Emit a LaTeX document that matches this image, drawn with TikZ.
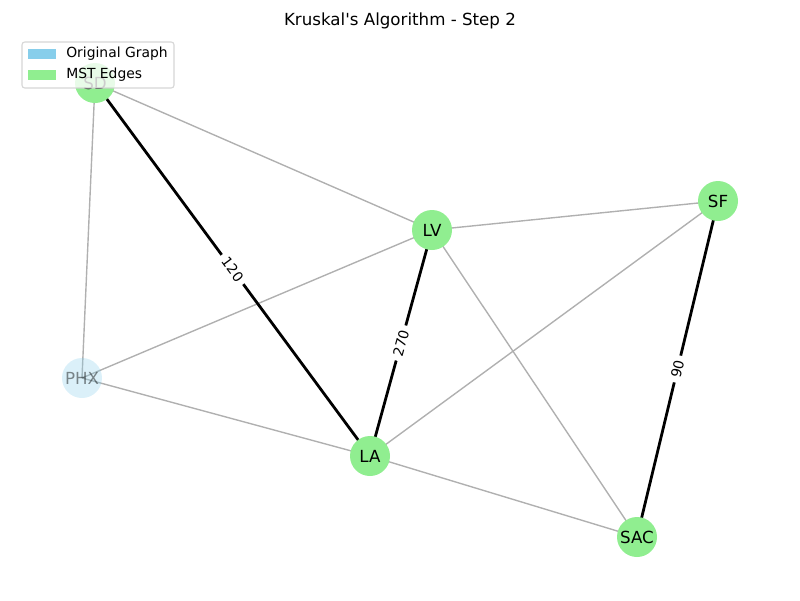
\documentclass[tikz,border=0pt]{standalone}
\usepackage{fontspec}
\setmainfont{DejaVu Sans}[Ligatures=TeXOff]
\usetikzlibrary{backgrounds}
\definecolor{mstgreen}{HTML}{90EE90}
\definecolor{skyblue}{HTML}{87CEEB}
\definecolor{edgegray}{RGB}{176,176,176}
\definecolor{legendedge}{RGB}{204,204,204}
\begin{document}
\begin{tikzpicture}[x=0.72pt,y=-0.72pt,
  vtx/.style={circle,fill=mstgreen,minimum size=28.8pt,inner sep=0pt,font=\fontsize{12}{14}\selectfont},
  faded/.style={fill=skyblue,fill opacity=0.3,text opacity=0.45},
  grayedge/.style={draw=edgegray,line width=1pt},
  mstedge/.style={draw=black,line width=2pt},
  wlabel/.style={midway,sloped,fill=white,rounded corners=2pt,inner xsep=3.5pt,inner ysep=2.5pt,font=\fontsize{10}{12}\selectfont},
  legendbox/.style={draw=legendedge,fill=white,fill opacity=0.8,draw opacity=0.8,rounded corners=2pt,line width=0.8pt},
  legendtext/.style={anchor=west,inner sep=0pt,font=\fontsize{10}{12}\selectfont}
]
\useasboundingbox (0,0) rectangle (800,600);
\node[font=\fontsize{12}{14}\selectfont] (title) at (400,21) {Kruskal's Algorithm - Step 2};

\node[vtx] (SD) at (95,83) {SD};
\node[vtx] (LV) at (432,230) {LV};
\node[vtx] (SF) at (718,201) {SF};
\node[vtx,faded] (PHX) at (82,378) {PHX};
\node[vtx] (LA) at (370,456) {LA};
\node[vtx] (SAC) at (637,537) {SAC};

\begin{pgfonlayer}{background}
\draw[grayedge] (SD.center) -- (PHX.center);
\draw[grayedge] (SD.center) -- (LV.center);
\draw[grayedge] (LV.center) -- (SF.center);
\draw[grayedge] (LV.center) -- (PHX.center);
\draw[grayedge] (LV.center) -- (SAC.center);
\draw[grayedge] (SF.center) -- (LA.center);
\draw[grayedge] (PHX.center) -- (LA.center);
\draw[grayedge] (LA.center) -- (SAC.center);
\draw[mstedge] (SD.center) -- node[wlabel] (l120) {120} (LA.center);
\draw[mstedge] (LA.center) -- node[wlabel] (l270) {270} (LV.center);
\draw[mstedge] (SAC.center) -- node[wlabel] (l90) {90} (SF.center);
\end{pgfonlayer}

\draw[legendbox] (22,42) rectangle (174,88);
\fill[skyblue] (28,49) rectangle (56,59);
\fill[mstgreen] (28,70) rectangle (56,80);
\node[legendtext] (lg1) at (66,54) {Original Graph};
\node[legendtext] (lg2) at (66,75) {MST Edges};
\end{tikzpicture}
\end{document}
